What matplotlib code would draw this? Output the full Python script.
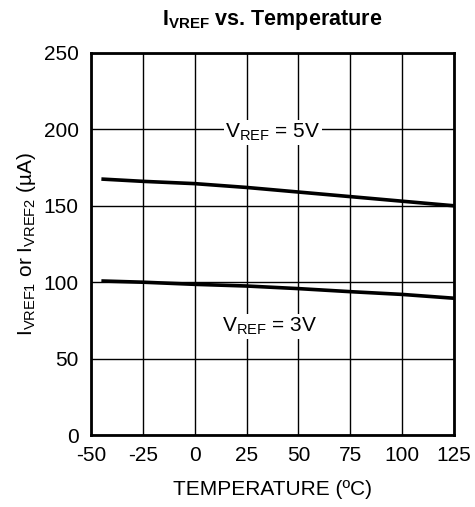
import matplotlib
matplotlib.use("Agg")
import matplotlib.pyplot as plt

plt.rcParams['font.family'] = ['Liberation Sans', 'DejaVu Sans']
plt.rcParams['axes.unicode_minus'] = False

# datos
temperatura = [-45, -25, 0, 25, 50, 75, 100, 125]
i_5v = [167.5, 166, 164.5, 162, 159, 156, 153, 150]
i_3v = [100.8, 100, 98.6, 97.5, 95.8, 93.8, 92, 89.5]

x_ticks = [-50, -25, 0, 25, 50, 75, 100, 125]
y_ticks = [0, 50, 100, 150, 200, 250]

fig = plt.figure(figsize=(4.75, 5.07), dpi=100)
ax = fig.add_axes([0.1916, 0.142, 0.7644, 0.7535])

ax.plot(temperatura, i_5v, color='black', linewidth=2.6, solid_capstyle='butt')
ax.plot(temperatura, i_3v, color='black', linewidth=2.6, solid_capstyle='butt')

ax.set_xlim(-50, 125)
ax.set_ylim(0, 250)
ax.set_xticks(x_ticks)
ax.set_yticks(y_ticks)
ax.grid(True, color='black', linewidth=1.0)
ax.tick_params(length=0, labelsize=15)
ax.tick_params(axis='x', pad=8)
ax.tick_params(axis='y', pad=9)
for s in ax.spines.values():
    s.set_linewidth(2.0)

caja = dict(facecolor='white', edgecolor='none', pad=1)
ax.text(37.5, 198, r'V$_{\mathregular{REF}}$ = 5V', fontsize=15, ha='center', va='center', bbox=caja)
ax.text(36, 71, r'V$_{\mathregular{REF}}$ = 3V', fontsize=15, ha='center', va='center', bbox=caja)

ax.set_xlabel('TEMPERATURE (ºC)', fontsize=15, labelpad=11)
ax.set_ylabel(r'I$_{\mathregular{VREF1}}$ or I$_{\mathregular{VREF2}}$ (µA)', fontsize=15, labelpad=4)
ax.set_title(r'I$_{\mathregular{VREF}}$ vs. Temperature', fontsize=15.5, fontweight='bold', pad=20)

fig.savefig('out.png', dpi=100)
